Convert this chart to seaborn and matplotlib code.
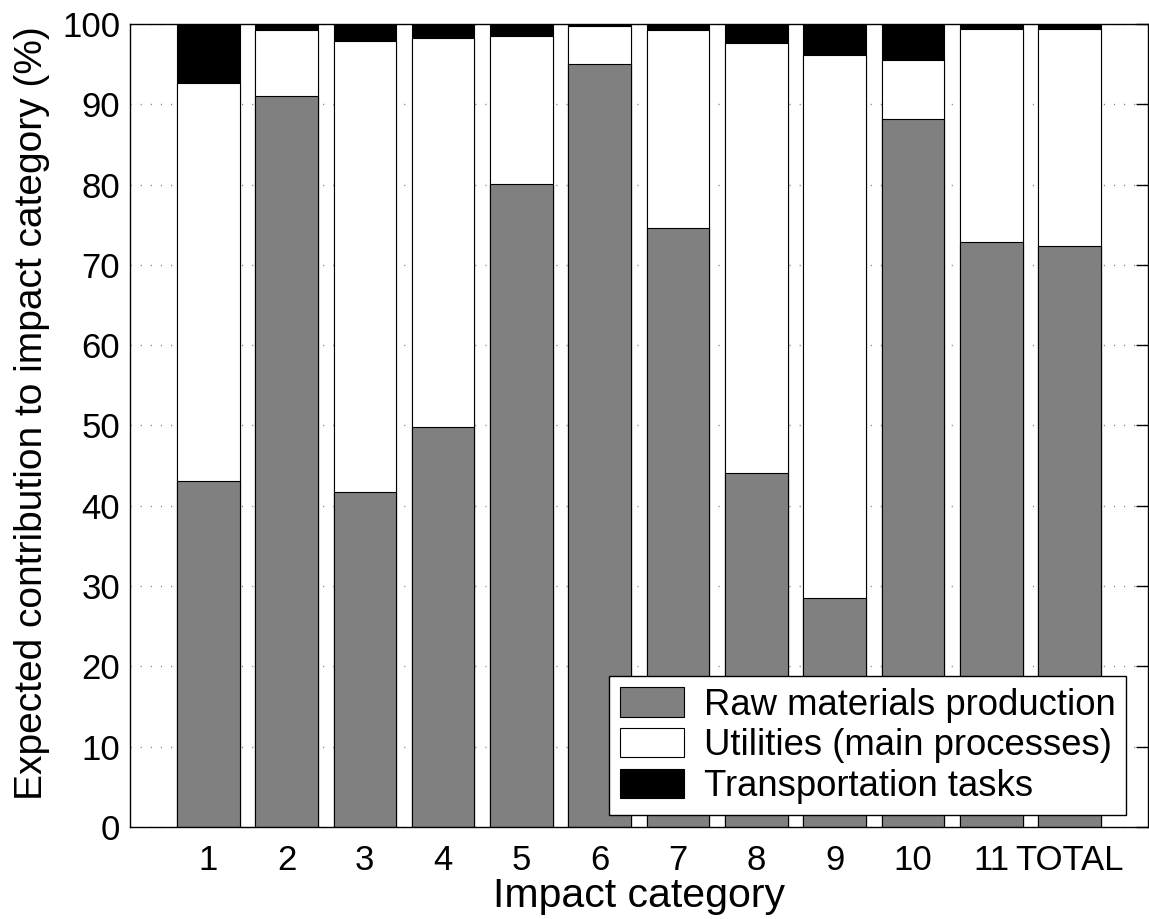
import numpy as np
import pandas as pd
import matplotlib
matplotlib.use("Agg")
import matplotlib.pyplot as plt
from matplotlib.patches import Patch
import seaborn as sns

# data (percent contribution)
categories = ['1', '2', '3', '4', '5', '6', '7', '8', '9', '10', '11', 'TOTAL']
raw_materials = [43.1, 91.0, 41.7, 49.8, 80.1, 95.0, 74.6, 44.1, 28.5, 88.2, 72.8, 72.4]
utilities = [49.5, 8.3, 56.2, 48.4, 18.4, 4.8, 24.6, 53.5, 67.6, 7.3, 26.6, 27.0]
transport = [7.4, 0.7, 2.1, 1.8, 1.5, 0.2, 0.8, 2.4, 3.9, 4.5, 0.6, 0.6]

df = pd.DataFrame({
    'category': categories,
    'raw': raw_materials,
    'util': utilities,
    'trans': transport,
})
df['raw_util'] = df['raw'] + df['util']
df['total'] = df['raw_util'] + df['trans']

sns.set_style('white')
plt.rcParams['font.family'] = ['Liberation Sans', 'DejaVu Sans']
plt.rcParams['text.color'] = 'black'
plt.rcParams['axes.labelcolor'] = 'black'

fig = plt.figure(figsize=(11.49, 9.19), dpi=100)
ax = fig.add_axes([0.1131, 0.1001, 0.8859, 0.8738])

col_raw = '#808080'
col_util = '#ffffff'
col_trans = '#000000'

# stacked bars drawn as cumulative layers, tallest first
sns.barplot(data=df, x='category', y='total', order=categories, color=col_trans,
            saturation=1, edgecolor='black', linewidth=0.8, width=0.8, ax=ax, zorder=1)
sns.barplot(data=df, x='category', y='raw_util', order=categories, color=col_util,
            saturation=1, edgecolor='black', linewidth=0.8, width=0.8, ax=ax, zorder=1)
sns.barplot(data=df, x='category', y='raw', order=categories, color=col_raw,
            saturation=1, edgecolor='black', linewidth=0.8, width=0.8, ax=ax, zorder=1)

ax.set_xlim(-1, 12)
ax.set_ylim(0, 100)
ax.set_yticks(np.arange(0, 101, 10))
ax.set_axisbelow(True)
ax.yaxis.grid(True, color='#808080', linewidth=1.0, linestyle=(0, (0.8, 6.5)))
ax.xaxis.grid(False)

for s in ax.spines.values():
    s.set_visible(True)
    s.set_color('black')
    s.set_linewidth(1.0)

ax.tick_params(axis='both', direction='in', length=9, width=1, labelsize=25,
               top=True, right=True, colors='black')
ax.tick_params(axis='x', pad=12)
ax.tick_params(axis='y', pad=7)

ax.set_xlabel('Impact category', fontsize=29.5, labelpad=0, color='black')
ax.set_ylabel('Expected contribution to impact category (%)', fontsize=28, color='black')
ax.yaxis.set_label_coords(-0.079, 0.515)

handles = [
    Patch(facecolor=col_raw, edgecolor='black', linewidth=0.8, label='Raw materials production'),
    Patch(facecolor=col_util, edgecolor='black', linewidth=0.8, label='Utilities (main processes)'),
    Patch(facecolor=col_trans, edgecolor='black', linewidth=0.8, label='Transportation tasks'),
]
leg = ax.legend(handles=handles, loc='lower right', bbox_to_anchor=(0.979, 0.015),
                fontsize=26.3, frameon=True, fancybox=False, framealpha=1,
                edgecolor='black', handlelength=1.75, handleheight=0.85,
                borderpad=0.3, labelspacing=0.15, handletextpad=0.55, borderaxespad=0)
leg.get_frame().set_linewidth(1.0)
for t in leg.get_texts():
    t.set_color('black')

fig.savefig('out.png', dpi=100)
